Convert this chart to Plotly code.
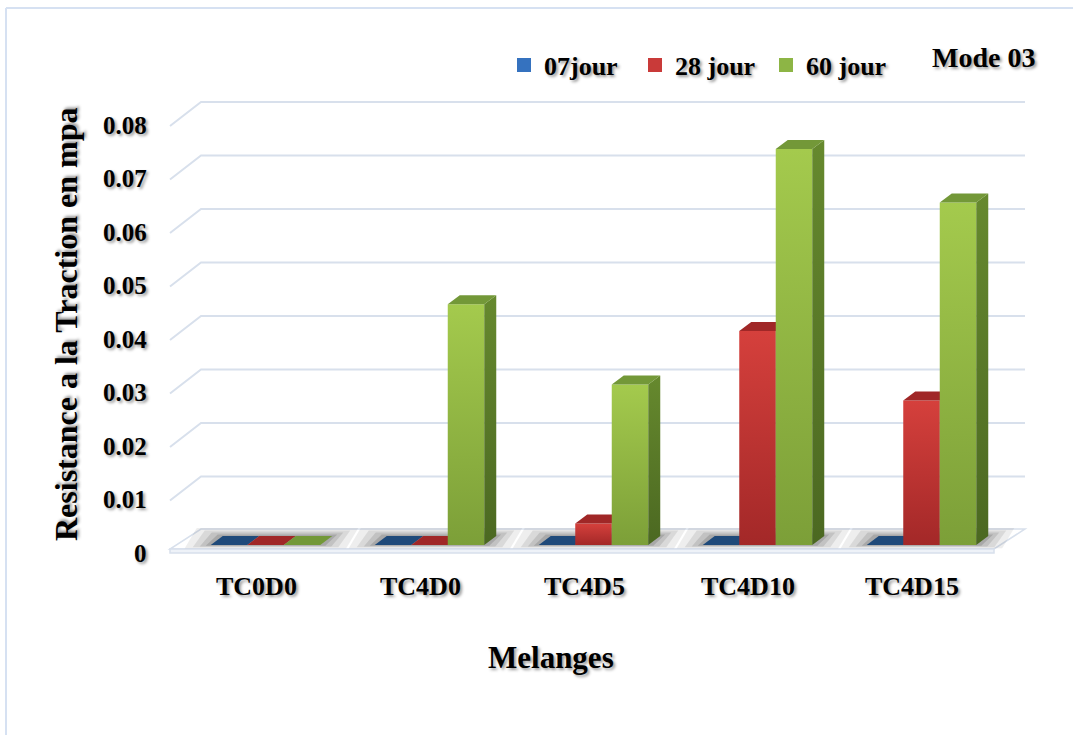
import plotly.graph_objects as go

# ---- data -------------------------------------------------------------
categories = ["TC0D0", "TC4D0", "TC4D5", "TC4D10", "TC4D15"]
series_names = ["07jour", "28 jour", "60 jour"]
values_07jour = [0.0, 0.0, 0.0, 0.0, 0.0]
values_28jour = [0.0, 0.0, 0.004, 0.040, 0.027]
values_60jour = [0.0, 0.045, 0.030, 0.074, 0.064]
tick_values = [0, 0.01, 0.02, 0.03, 0.04, 0.05, 0.06, 0.07, 0.08]
tick_labels = ["0", "0.01", "0.02", "0.03", "0.04", "0.05", "0.06", "0.07", "0.08"]

series_values = [values_07jour, values_28jour, values_60jour]

# ---- geometry ---------------------------------------------------------
W, H = 1073, 735
CAT_PX = 164.0      # pixels between category centres
VAL_PX = 5350.0     # pixels per unit of value
ORIGIN_X = 265.5    # pixel column of the first category centre
ORIGIN_Y = 545.0    # pixel row of value 0 on the bar plane


def xd(px):
    return (px - ORIGIN_X) / CAT_PX


def yd(py):
    return (ORIGIN_Y - py) / VAL_PX


def dxd(px):
    return px / CAT_PX


def dyd(px):
    return px / VAL_PX


BAR_W = dxd(36.5)
DEP_X = dxd(12)
DEP_Y = dyd(9)

FONT = "Liberation Serif"
SHADOW = "2px 2px 3px rgba(0,0,0,0.40)"

styles = [
    dict(front=("#25558f", "#3b78c2"), side=("#1a3f6a", "#24518a"), top="#1f4a7a", legend="#3572bf"),
    dict(front=("#a32828", "#d5403c"), side=("#7c1b1b", "#9a2525"), top="#a02727", legend="#c93a39"),
    dict(front=("#7c9f38", "#a4ca4d"), side=("#4b6821", "#66892e"), top="#739838", legend="#8db545"),
]

fig = go.Figure()

# ---- floor shadows (drawn first, underneath the columns) ---------------
for i in range(len(categories)):
    xl = i - 1.5 * BAR_W
    xr = i + 1.5 * BAR_W
    for e, a in [(26, 0.08), (18, 0.10), (11, 0.13), (5, 0.16)]:
        ex, ey = dxd(e), dyd(e / 3.2)
        fig.add_trace(go.Scatter(
            x=[xl - ex, xr + ex, xr + DEP_X + ex, xl + DEP_X - ex, xl - ex],
            y=[-ey * 0.4, -ey * 0.4, DEP_Y + ey, DEP_Y + ey, -ey * 0.4],
            mode="none", fill="toself", fillcolor=f"rgba(40,40,40,{a})",
            showlegend=False, hoverinfo="skip"))

# ---- bars: front, side and top faces of each 3-D column ---------------
for i, _cat in enumerate(categories):
    for k, vals in enumerate(series_values):
        v = vals[i]
        st = styles[k]
        x0 = i - 1.5 * BAR_W + k * BAR_W
        x1 = x0 + BAR_W
        if v > 0:
            fig.add_trace(go.Scatter(
                x=[x0, x1, x1, x0, x0], y=[0, 0, v, v, 0],
                mode="none", fill="toself",
                fillgradient=dict(type="vertical",
                                  colorscale=[[0, st["front"][0]], [1, st["front"][1]]]),
                showlegend=False, hoverinfo="skip"))
            fig.add_trace(go.Scatter(
                x=[x1, x1 + DEP_X, x1 + DEP_X, x1, x1],
                y=[0, DEP_Y, v + DEP_Y, v, 0],
                mode="none", fill="toself",
                fillgradient=dict(type="vertical",
                                  colorscale=[[0, st["side"][0]], [1, st["side"][1]]]),
                showlegend=False, hoverinfo="skip"))
        fig.add_trace(go.Scatter(
            x=[x0, x1, x1 + DEP_X, x0 + DEP_X, x0],
            y=[v, v, v + DEP_Y, v + DEP_Y, v],
            mode="none", fill="toself", fillcolor=st["top"],
            showlegend=False, hoverinfo="skip"))

# legend entries
for k, name in enumerate(series_names):
    fig.add_trace(go.Scatter(
        x=[None], y=[None], mode="markers", name=name,
        marker=dict(symbol="square", size=14, color=styles[k]["legend"]),
        hoverinfo="skip"))

# ---- walls and floor --------------------------------------------------
shapes = []
GRID = "#d8e0ec"
BACK_L, BACK_R, FRONT_L = 201, 1025, 170
BACK_ZERO, FRONT_ZERO = 530, 554

# floor slab
shapes.append(dict(
    type="path", xref="x", yref="y", layer="below",
    path=(f"M{xd(BACK_L)},{yd(529)} L{xd(BACK_R)},{yd(529)} "
          f"L{xd(994)},{yd(549)} L{xd(FRONT_L)},{yd(549)} Z"),
    fillcolor="#ffffff", line=dict(color=GRID, width=1.5)))
shapes.append(dict(
    type="path", xref="x", yref="y", layer="below",
    path=(f"M{xd(FRONT_L)},{yd(549)} L{xd(994)},{yd(549)} "
          f"L{xd(994)},{yd(553)} L{xd(FRONT_L)},{yd(553)} Z"),
    fillcolor="#eef2f8", line=dict(color=GRID, width=1.5)))

# back-wall gridlines with their side-wall returns
for v in tick_values[1:]:
    shapes.append(dict(
        type="path", xref="x", yref="y", layer="below",
        path=(f"M{xd(FRONT_L)},{yd(FRONT_ZERO) + v} L{xd(BACK_L)},{yd(BACK_ZERO) + v} "
              f"L{xd(BACK_R)},{yd(BACK_ZERO) + v}"),
        line=dict(color=GRID, width=2)))

# chart frame
shapes.append(dict(type="line", xref="paper", yref="paper",
                   x0=6 / W, x1=1, y0=1 - 8 / H, y1=1 - 8 / H,
                   line=dict(color="#d6e1f2", width=2)))
shapes.append(dict(type="line", xref="paper", yref="paper",
                   x0=6 / W, x1=6 / W, y0=0, y1=1 - 8 / H,
                   line=dict(color="#d6e1f2", width=2)))

# ---- text -------------------------------------------------------------
annotations = []
for v, lab in zip(tick_values, tick_labels):
    annotations.append(dict(
        x=xd(149), y=yd(553) + v, xref="x", yref="y", text=lab,
        xanchor="right", yanchor="middle", showarrow=False,
        font=dict(family=FONT, size=25, color="#000", weight="bold", shadow=SHADOW)))

for i, cat in enumerate(categories):
    annotations.append(dict(
        x=i + dxd(-9.5), y=yd(586), xref="x", yref="y", text=cat,
        xanchor="center", yanchor="middle", showarrow=False,
        font=dict(family=FONT, size=26, color="#000", weight="bold", shadow=SHADOW)))

annotations.append(dict(
    x=551 / W, y=1 - 657 / H, xref="paper", yref="paper", text="Melanges",
    xanchor="center", yanchor="middle", showarrow=False,
    font=dict(family=FONT, size=31, color="#000", weight="bold", shadow=SHADOW)))
annotations.append(dict(
    x=66 / W, y=1 - 325 / H, xref="paper", yref="paper",
    text="Resistance a la Traction en mpa", textangle=-90,
    xanchor="center", yanchor="middle", showarrow=False,
    font=dict(family=FONT, size=32, color="#000", weight="bold", shadow=SHADOW)))
annotations.append(dict(
    x=983 / W, y=1 - 57 / H, xref="paper", yref="paper", text="Mode 03",
    xanchor="center", yanchor="middle", showarrow=False,
    font=dict(family=FONT, size=28, color="#000", weight="bold", shadow=SHADOW)))

fig.update_layout(
    width=W, height=H,
    margin=dict(l=0, r=0, t=0, b=0),
    paper_bgcolor="#ffffff", plot_bgcolor="#ffffff",
    xaxis=dict(range=[xd(0), xd(W)], visible=False, fixedrange=True),
    yaxis=dict(range=[yd(H), yd(0)], visible=False, fixedrange=True),
    shapes=shapes, annotations=annotations,
    showlegend=True,
    legend=dict(orientation="h", x=504 / W, y=1 - 65 / H,
                xanchor="left", yanchor="middle", entrywidth=86,
                bgcolor="rgba(0,0,0,0)",
                font=dict(family=FONT, size=26, color="#000", weight="bold", shadow=SHADOW)),
)

fig.write_html("out.html")
